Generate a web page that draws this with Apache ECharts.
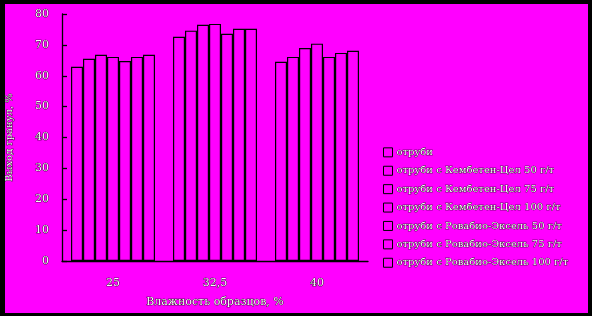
<!DOCTYPE html>
<html><head><meta charset="utf-8">
<script src="https://cdn.jsdelivr.net/npm/echarts@6/dist/echarts.min.js"></script>
<style>html,body{margin:0;padding:0;background:#000;}#c{width:592px;height:316px;}</style>
</head><body><div id="c"></div>
<script>
var categories = ['25', '32,5', '40'];
var seriesNames = [
  'отруби',
  'отруби с Кембетен-Цел 50 г/т',
  'отруби с Кембетен-Цел 75 г/т',
  'отруби с Кембетен-Цел 100 г/т',
  'отруби с Ровабио-Эксель 50 г/т',
  'отруби с Ровабио-Эксель 75 г/т',
  'отруби с Ровабио-Эксель 100 г/т'
];
var s1 = [62.9, 72.6, 64.5];
var s2 = [65.5, 74.6, 66.1];
var s3 = [66.8, 76.5, 69.0];
var s4 = [66.1, 76.8, 70.4];
var s5 = [64.8, 73.6, 66.1];
var s6 = [66.1, 75.2, 67.4];
var s7 = [66.8, 75.2, 68.1];
var values = [s1, s2, s3, s4, s5, s6, s7];
var yTicks = [0, 80, 10];

var txt = {color: '#f8f8f8', textBorderColor: '#000', textBorderWidth: 0.7, fontFamily: 'DejaVu Serif'};
var chart = echarts.init(document.getElementById('c'), null, {renderer: 'canvas'});
chart.setOption({
  backgroundColor: '#ff00ff',
  animation: false,
  grid: {left: 62, right: 224, top: 14, bottom: 55, containLabel: false, outerBoundsMode: 'none'},
  legend: {
    orient: 'vertical', left: 378, top: 142,
    itemWidth: 9, itemHeight: 9, itemGap: 7.7,
    icon: 'rect',
    data: seriesNames,
    itemStyle: {color: '#ff00ff', borderColor: '#000', borderWidth: 1},
    textStyle: Object.assign({fontSize: 10, padding: [0, 0, 0, -1]}, txt)
  },
  xAxis: {
    type: 'category', data: categories,
    name: 'Влажность образцов, %', nameLocation: 'middle', nameGap: 36,
    nameTextStyle: Object.assign({fontSize: 11}, txt),
    axisLine: {lineStyle: {color: '#000', width: 1.3}},
    axisTick: {show: false},
    axisLabel: Object.assign({fontSize: 11, margin: 17}, txt)
  },
  yAxis: {
    type: 'value', min: yTicks[0], max: yTicks[1], interval: yTicks[2],
    name: 'Выход гранул, %', nameLocation: 'middle', nameGap: 48,
    nameTextStyle: Object.assign({fontSize: 10}, txt),
    axisLine: {show: true, lineStyle: {color: '#000', width: 1.3}},
    axisTick: {show: true, inside: true, length: 5, lineStyle: {color: '#000', width: 1.3}},
    splitLine: {show: false},
    axisLabel: Object.assign({fontSize: 11, margin: 13}, txt)
  },
  series: values.map(function (v, i) {
    return {
      name: seriesNames[i], type: 'bar', data: v,
      barGap: '0%', barWidth: 12,
      itemStyle: {color: '#ff00ff', borderColor: '#000', borderWidth: 1.2}
    };
  }),
  graphic: [
    {type: 'rect', z: 100, shape: {x: 0, y: 0, width: 592, height: 4}, style: {fill: '#000'}},
    {type: 'rect', z: 100, shape: {x: 0, y: 0, width: 5, height: 316}, style: {fill: '#000'}},
    {type: 'rect', z: 100, shape: {x: 588, y: 0, width: 4, height: 316}, style: {fill: '#000'}},
    {type: 'rect', z: 100, shape: {x: 0, y: 313, width: 592, height: 3}, style: {fill: '#000'}}
  ]
});
</script></body></html>
